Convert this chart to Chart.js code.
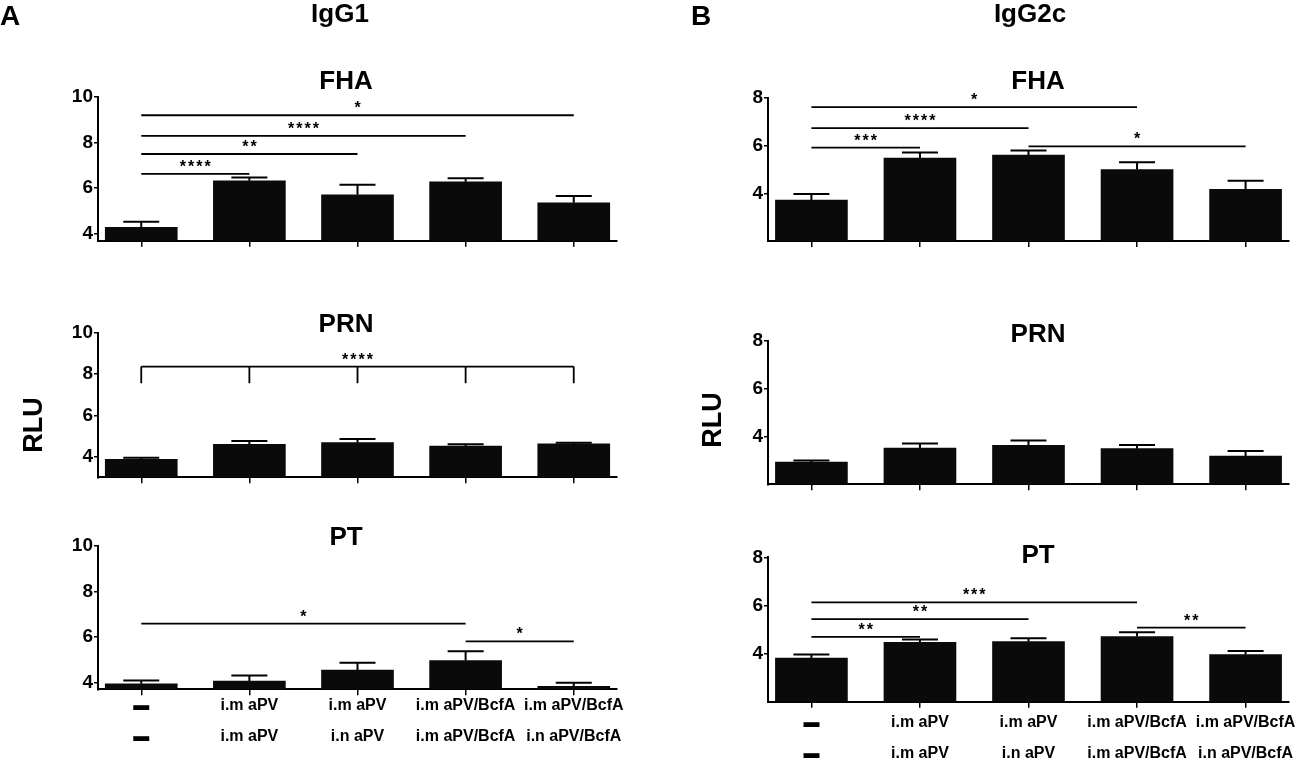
<!DOCTYPE html>
<html>
<head>
<meta charset="utf-8">
<script src="https://cdn.jsdelivr.net/npm/chart.js@4.4.1/dist/chart.umd.min.js"></script>
<style>
  html, body { margin: 0; padding: 0; background: #fff; overflow: hidden; }
  #wrap { position: relative; width: 1298px; height: 760px; overflow: hidden; background: #fff; }
  #wrap canvas { position: absolute; left: 0; top: 0; }
</style>
</head>
<body>
<div id="wrap">
  <canvas id="aFHA" width="1400" height="800"></canvas>
  <canvas id="bFHA" width="1400" height="800"></canvas>
  <canvas id="aPRN" width="1400" height="800"></canvas>
  <canvas id="bPRN" width="1400" height="800"></canvas>
  <canvas id="aPT" width="1400" height="800"></canvas>
  <canvas id="bPT" width="1400" height="800"></canvas>
</div>
<script>
/* groups (two immunisations), tick labels */
const dose1 = ["▬", "i.m aPV", "i.m aPV", "i.m aPV/BcfA", "i.m aPV/BcfA"];
const dose2 = ["▬", "i.m aPV", "i.n aPV", "i.m aPV/BcfA", "i.n aPV/BcfA"];
const igg1Ticks = [4, 6, 8, 10];
const igg2cTicks = [4, 6, 8];

/* IgG1 : mean and SEM */
const igg1FHA = [4.29, 6.33, 5.71, 6.28, 5.36];
const igg1FHAsem = [0.24, 0.14, 0.44, 0.16, 0.30];
const igg1PRN = [3.87, 4.60, 4.68, 4.52, 4.62];
const igg1PRNsem = [0.08, 0.16, 0.18, 0.08, 0.05];
const igg1PT = [3.94, 4.06, 4.54, 4.96, 3.83];
const igg1PTsem = [0.15, 0.25, 0.32, 0.41, 0.16];

/* IgG2c : mean and SEM */
const igg2cFHA = [3.72, 5.48, 5.60, 5.00, 4.17];
const igg2cFHAsem = [0.25, 0.23, 0.20, 0.30, 0.36];
const igg2cPRN = [2.93, 3.51, 3.63, 3.49, 3.18];
const igg2cPRNsem = [0.06, 0.19, 0.20, 0.15, 0.21];
const igg2cPT = [3.81, 4.47, 4.50, 4.71, 3.96];
const igg2cPTsem = [0.15, 0.11, 0.14, 0.18, 0.15];

/* significance: [from group, to group, height, stars] */
const igg1FHAsig = [[0, 1, 6.63, "****"], [0, 2, 7.5, "**"], [0, 3, 8.3, "****"], [0, 4, 9.2, "*"]];
const igg1PRNsig = [];
const igg1PRNbracket = { from: 0, to: 4, y: 8.37, drop: 7.56, text: "****" };
const igg1PTsig = [[0, 3, 6.58, "*"], [3, 4, 5.8, "*"]];
const igg2cFHAsig = [[0, 1, 5.92, "***"], [0, 2, 6.74, "****"], [0, 3, 7.62, "*"], [2, 4, 5.97, "*"]];
const igg2cPRNsig = [];
const igg2cPTsig = [[0, 1, 4.69, "**"], [0, 2, 5.43, "**"], [0, 3, 6.13, "***"], [3, 4, 5.08, "**"]];

const FONT = "'Liberation Sans', Arial, sans-serif";

const panels = [
  { id: "aFHA", title: "FHA", mean: igg1FHA, sem: igg1FHAsem, sig: igg1FHAsig, ticks: igg1Ticks,
    min: 3.7, max: 10, box: [98, 97, 617, 240.7], titleX: 346, titleY: 89, figure: true },
  { id: "bFHA", title: "FHA", mean: igg2cFHA, sem: igg2cFHAsem, sig: igg2cFHAsig, ticks: igg2cTicks,
    min: 2, max: 8, box: [768, 98, 1289, 241], titleX: 1038, titleY: 89 },
  { id: "aPRN", title: "PRN", mean: igg1PRN, sem: igg1PRNsem, sig: igg1PRNsig, ticks: igg1Ticks,
    min: 3, max: 10, box: [98, 333, 617, 477.3], titleX: 346, titleY: 332, bracket: igg1PRNbracket,
    rlu: [35, 425] },
  { id: "bPRN", title: "PRN", mean: igg2cPRN, sem: igg2cPRNsem, sig: igg2cPRNsig, ticks: igg2cTicks,
    min: 2, max: 8, box: [768, 340.7, 1289, 484.3], titleX: 1038, titleY: 342, rlu: [714, 420] },
  { id: "aPT", title: "PT", mean: igg1PT, sem: igg1PTsem, sig: igg1PTsig, ticks: igg1Ticks,
    min: 3.7, max: 10, box: [98, 545.7, 617, 689.3], titleX: 346, titleY: 545, labels: [16, 47] },
  { id: "bPT", title: "PT", mean: igg2cPT, sem: igg2cPTsem, sig: igg2cPTsig, ticks: igg2cTicks,
    min: 2, max: 8, box: [768, 557.3, 1289, 701.7], titleX: 1038, titleY: 563, labels: [21, 52] }
];

function stars(ctx, text, x, y) {
  ctx.font = "bold 16px " + FONT;
  ctx.letterSpacing = "2px";
  ctx.textAlign = "center";
  ctx.textBaseline = "alphabetic";
  ctx.fillText(text, x + 1, y);
  ctx.letterSpacing = "0px";
}

const decor = {
  id: "decor",
  afterDatasetsDraw(chart, args, p) {
    const ctx = chart.ctx;
    const xs = chart.scales.x, ys = chart.scales.y;
    ctx.save();
    ctx.strokeStyle = "#000";
    ctx.fillStyle = "#000";

    // error bars (upper SEM)
    ctx.lineWidth = 2;
    p.mean.forEach((m, i) => {
      const x = xs.getPixelForValue(i);
      const y0 = ys.getPixelForValue(m);
      const y1 = ys.getPixelForValue(m + p.sem[i]);
      ctx.beginPath();
      ctx.moveTo(x, y0);
      ctx.lineTo(x, y1);
      ctx.moveTo(x - 18, y1);
      ctx.lineTo(x + 18, y1);
      ctx.stroke();
    });

    // significance lines
    ctx.lineWidth = 1.8;
    p.sig.forEach(s => {
      const xa = xs.getPixelForValue(s[0]);
      const xb = xs.getPixelForValue(s[1]);
      const y = ys.getPixelForValue(s[2]);
      ctx.beginPath();
      ctx.moveTo(xa, y);
      ctx.lineTo(xb, y);
      ctx.stroke();
      stars(ctx, s[3], (xa + xb) / 2, y - 2);
    });

    if (p.bracket) {
      const b = p.bracket;
      const y = ys.getPixelForValue(b.y);
      const yd = ys.getPixelForValue(b.drop);
      ctx.beginPath();
      ctx.moveTo(xs.getPixelForValue(b.from), y);
      ctx.lineTo(xs.getPixelForValue(b.to), y);
      for (let i = b.from; i <= b.to; i++) {
        const x = xs.getPixelForValue(i);
        ctx.moveTo(x, y);
        ctx.lineTo(x, yd);
      }
      ctx.stroke();
      stars(ctx, b.text, (xs.getPixelForValue(b.from) + xs.getPixelForValue(b.to)) / 2, y - 2);
    }

    // panel title
    ctx.font = "bold 26px " + FONT;
    ctx.textAlign = "center";
    ctx.textBaseline = "alphabetic";
    ctx.fillText(p.title, p.titleX, p.titleY);

    // group labels under the bottom panels
    if (p.labels) {
      ctx.font = "bold 16px " + FONT;
      ctx.textBaseline = "middle";
      const base = ys.getPixelForValue(p.min);
      dose1.forEach((t, i) => {
        const x = xs.getPixelForValue(i);
        ctx.fillText(t, x, base + p.labels[0]);
        ctx.fillText(dose2[i], x, base + p.labels[1]);
      });
    }

    // y-axis title
    if (p.rlu) {
      ctx.save();
      ctx.translate(p.rlu[0], p.rlu[1]);
      ctx.rotate(-Math.PI / 2);
      ctx.font = "bold 27px " + FONT;
      ctx.textBaseline = "middle";
      ctx.fillText("RLU", 0, 0);
      ctx.restore();
    }

    // figure headings
    if (p.figure) {
      ctx.font = "bold 28px " + FONT;
      ctx.textAlign = "center";
      ctx.textBaseline = "alphabetic";
      ctx.fillText("A", 10, 25);
      ctx.fillText("B", 701, 25);
      ctx.font = "bold 26px " + FONT;
      ctx.fillText("IgG1", 340, 22);
      ctx.fillText("IgG2c", 1030, 22);
    }
    ctx.restore();
  }
};

function makePanel(p) {
  const W = 1400, H = 800, yW = 40, xH = 20;
  new Chart(document.getElementById(p.id), {
    type: "bar",
    data: {
      datasets: [{
        data: p.mean.map((v, i) => ({ x: i, y: v })),
        backgroundColor: "#0a0a0a",
        borderWidth: 0,
        barThickness: 72,
        base: p.min
      }]
    },
    options: {
      responsive: false,
      animation: false,
      events: [],
      layout: { padding: { left: p.box[0] - yW, top: p.box[1], right: W - p.box[2], bottom: H - p.box[3] - xH } },
      plugins: { legend: { display: false }, tooltip: { enabled: false }, decor: p },
      scales: {
        x: {
          type: "linear", min: -0.4, max: 4.4, bounds: "data", offset: false,
          afterBuildTicks: s => {
            s.ticks = [0, 1, 2, 3, 4].map(v => ({ value: v }));
            s.min = -0.4; s.max = 4.4;
          },
          afterFit: s => { s.height = xH; },
          ticks: { callback: () => "" },
          grid: { offset: false, drawOnChartArea: false, drawTicks: true, tickLength: 6, color: "#000", lineWidth: 1.5 },
          border: { display: true, color: "#000", width: 2 }
        },
        y: {
          min: p.min, max: p.max, bounds: "data",
          afterBuildTicks: s => {
            s.ticks = p.ticks.map(v => ({ value: v }));
            s.min = p.min; s.max = p.max;
          },
          afterFit: s => { s.width = yW; },
          ticks: { color: "#000", padding: 1, font: { family: FONT, size: 19, weight: "bold" } },
          grid: { drawOnChartArea: false, drawTicks: true, tickLength: 4, color: "#000", lineWidth: 1.5 },
          border: { display: true, color: "#000", width: 2 }
        }
      }
    },
    plugins: [decor]
  });
}

panels.forEach(makePanel);
</script>
</body>
</html>
